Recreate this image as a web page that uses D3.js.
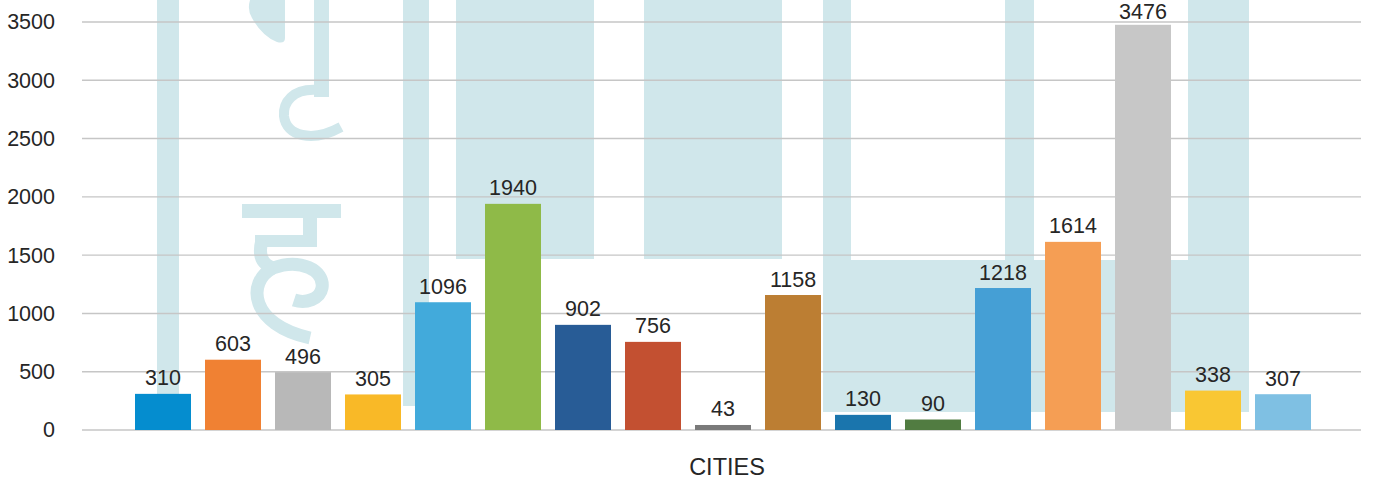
<!DOCTYPE html>
<html>
<head>
<meta charset="utf-8">
<script src="https://cdn.jsdelivr.net/npm/d3@7"></script>
<style>
  body { margin: 0; background: #fff; }
  svg { display: block; font-family: "Liberation Sans", Arial, sans-serif; }
</style>
</head>
<body>
<div id="chart"></div>
<script>
// datos del gráfico
const cities = ["C1", "C2", "C3", "C4", "C5", "C6", "C7", "C8", "C9",
                "C10", "C11", "C12", "C13", "C14", "C15", "C16", "C17"];
const values = [310, 603, 496, 305, 1096, 1940, 902, 756, 43,
                1158, 130, 90, 1218, 1614, 3476, 338, 307];
const barColors = ["#058dcf", "#f08133", "#b8b8b8", "#f9b927", "#42aadb", "#8fba48",
                   "#285c96", "#c35031", "#7a7a7a", "#bc7e33", "#1a75ad", "#517c41",
                   "#459fd5", "#f59e54", "#c7c7c7", "#f9c733", "#7fc0e3"];
const yTicks = [0, 500, 1000, 1500, 2000, 2500, 3000, 3500];
const axisTitle = "CITIES";

const width = 1381, height = 480;

const svg = d3.select("#chart")
    .append("svg")
    .attr("width", width)
    .attr("height", height);

// marca de agua de fondo
const wm = svg.append("g").attr("fill", "#d0e7eb").attr("stroke", "none");
[[157, 0, 22, 395], [403, 0, 26, 406], [456, 0, 138, 259], [644, 0, 138, 259],
 [823, 0, 28, 412], [823, 260, 426, 152], [1005, 0, 29, 260], [1188, 0, 61, 260],
 [242, 204, 99, 14], [303, 204, 14, 43], [255, 235, 62, 12], [314, 0, 15, 97]]
  .forEach(r => wm.append("rect").attr("x", r[0]).attr("y", r[1]).attr("width", r[2]).attr("height", r[3]));
wm.append("path")
    .attr("d", "M250,0 L285,0 L285,38 Q285,44 277,42 Q262,36 252,18 Q247,10 250,0 Z");
const wmStroke = svg.append("g").attr("fill", "none").attr("stroke", "#d0e7eb");
wmStroke.append("path")
    .attr("stroke-width", 10)
    .attr("d", "M318,90 C292,88 283,103 284,116 C286,136 312,143 341,127");
wmStroke.append("path")
    .attr("stroke-width", 13)
    .attr("d", "M262,240 C258,255 262,264 273,268 C300,258 325,270 322,288 C320,299 306,304 294,300");
wmStroke.append("path")
    .attr("stroke-width", 13)
    .attr("d", "M273,268 C246,282 250,325 310,338");

// escalas
const x = d3.scaleBand()
    .domain(cities)
    .range([128, 1318])
    .paddingInner(0.2)
    .paddingOuter(0.1);

const y = d3.scaleLinear()
    .domain([0, 3500])
    .range([430, 22]);

// líneas de la cuadrícula
svg.append("g")
    .selectAll("line")
    .data(yTicks)
    .enter()
    .append("line")
    .attr("x1", 82)
    .attr("x2", 1361)
    .attr("y1", d => y(d))
    .attr("y2", d => y(d))
    .attr("stroke", "#c6c6c6")
    .attr("stroke-width", 1.4);

// etiquetas del eje Y
const yAxis = d3.axisLeft(y).tickValues(yTicks).tickFormat(d3.format("d")).tickSize(0).tickPadding(0);
const yg = svg.append("g")
    .attr("transform", "translate(55,0)")
    .call(yAxis);
yg.select(".domain").remove();
yg.selectAll("text")
    .attr("font-size", "21.5px")
    .attr("font-family", "Liberation Sans, Arial, sans-serif")
    .attr("fill", "#262626");

// barras
svg.append("g")
    .selectAll("rect")
    .data(values)
    .enter()
    .append("rect")
    .attr("x", (d, i) => x(cities[i]))
    .attr("y", d => y(d))
    .attr("width", x.bandwidth())
    .attr("height", d => y(0) - y(d))
    .attr("fill", (d, i) => barColors[i]);

// etiquetas de valores (sin salirse por arriba)
svg.append("g")
    .selectAll("text")
    .data(values)
    .enter()
    .append("text")
    .attr("x", (d, i) => x(cities[i]) + x.bandwidth() / 2)
    .attr("y", d => Math.max(y(d) - 8.5, 19))
    .attr("text-anchor", "middle")
    .attr("font-size", "21.5px")
    .attr("fill", "#262626")
    .text(d => d);

// título del eje
svg.append("text")
    .attr("x", 727)
    .attr("y", 475)
    .attr("text-anchor", "middle")
    .attr("font-size", "23.5px")
    .attr("fill", "#262626")
    .text(axisTitle);
</script>
</body>
</html>
